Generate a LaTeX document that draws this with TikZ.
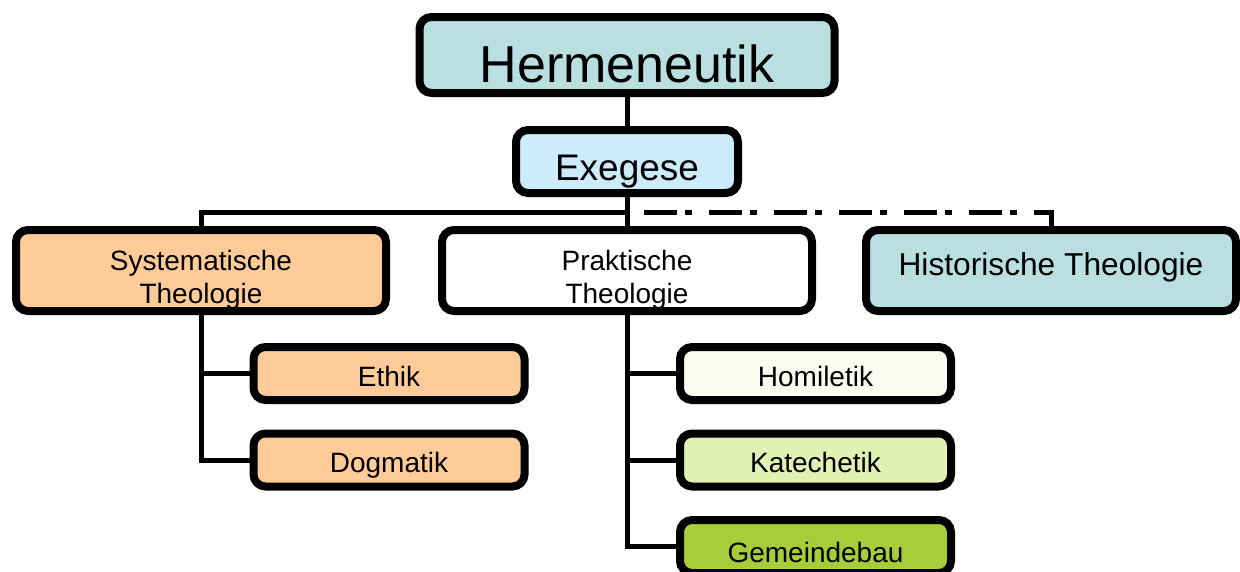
\documentclass[tikz,border=0pt]{standalone}
\usepackage{fontspec}
\setmainfont{Liberation Sans}
\definecolor{hermteal}{RGB}{185,223,225}
\definecolor{exeblue}{RGB}{204,236,252}
\definecolor{syspeach}{RGB}{255,204,153}
\definecolor{homwhite}{RGB}{250,252,240}
\definecolor{katgreen}{RGB}{226,240,180}
\definecolor{gemgreen}{RGB}{166,206,57}
\begin{document}
\begin{tikzpicture}[x=1pt,y=-1pt]
\tikzstyle{every node}=[]
\tikzstyle{box}=[draw, line width=8pt, rounded corners=12pt, inner sep=2pt, font=\fontsize{28}{33}\selectfont, text height=25pt, text depth=0pt]
\tikzstyle{mainbox}=[box, minimum width=370pt, minimum height=81pt]
\tikzstyle{subbox}=[box, minimum width=271pt, minimum height=53pt]
\tikzstyle{link}=[line width=5pt]

\useasboundingbox (0,0) rectangle (1240,571);
\clip (0,0) rectangle (1240,571);

\node[box, fill=hermteal, minimum width=415pt, minimum height=76pt, font=\fontsize{52}{60}\selectfont, text height=54pt] (H) at (627,55) {Hermeneutik};
\node[box, fill=exeblue, minimum width=222pt, minimum height=63pt, font=\fontsize{37}{44}\selectfont, text height=37pt] (E) at (627,161.5) {Exegese};

\node[mainbox, fill=syspeach, align=center, text height=70pt, text depth=5pt] (S) at (201,270.5) {Systematische\\Theologie};
\node[mainbox, fill=white, align=center, text height=70pt, text depth=5pt] (P) at (627,270.5) {Praktische\\Theologie};
\node[mainbox, fill=hermteal, font=\fontsize{31.7}{38}\selectfont, text height=24pt, text depth=15pt] (Hi) at (1051,270.5) {Historische Theologie};

\node[subbox, fill=syspeach] (Et) at (389,373.5) {Ethik};
\node[subbox, fill=syspeach] (Do) at (389,460) {Dogmatik};

\node[subbox, fill=homwhite] (Ho) at (815.5,373.5) {Homiletik};
\node[subbox, fill=katgreen] (K) at (815.5,460) {Katechetik};
\node[subbox, fill=gemgreen, text height=31pt] (G) at (815.5,546.5) {Gemeindebau};

\coordinate (J) at (627,212);

\draw[link] (H) -- (E);
\draw[link] (E) -- (J);
\draw[link] (S.north) |- (J) -- (P.north);
\draw[link, dash pattern=on 33pt off 8pt on 7pt off 17pt, dash phase=48pt] (J) -| (Hi.north);

\draw[link] (S.south) |- (Do.west);
\draw[link] (S.south |- Et.west) -- (Et.west);

\draw[link] (P.south) |- (G.west);
\draw[link] (P.south |- Ho.west) -- (Ho.west);
\draw[link] (P.south |- K.west) -- (K.west);
\end{tikzpicture}
\end{document}
